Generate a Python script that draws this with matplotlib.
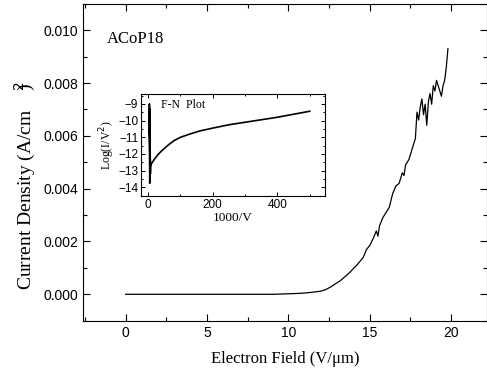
import matplotlib
matplotlib.use("Agg")
import matplotlib.pyplot as plt
from matplotlib.ticker import MultipleLocator

# Main J-E curve
field = [0.0, 9.0, 10.0, 10.5, 11.0, 11.5, 12.0, 12.3, 12.6, 12.9, 13.2, 13.5, 13.8,
         14.0, 14.2, 14.4, 14.6, 14.8, 15.0, 15.2, 15.4, 15.5, 15.6, 15.8, 16.0, 16.2,
         16.4, 16.6, 16.8, 17.0, 17.1, 17.2, 17.4, 17.6, 17.8, 17.9, 18.0, 18.1, 18.2,
         18.3, 18.4, 18.5, 18.6, 18.7, 18.8, 18.9, 19.0, 19.1, 19.2, 19.3, 19.4, 19.5,
         19.6, 19.7, 19.8]
current = [0.0, 0.0, 0.00002, 0.00003, 0.00005, 0.00008, 0.00012, 0.00018, 0.00028,
           0.0004, 0.00052, 0.00068, 0.00085, 0.00098, 0.0011, 0.00125, 0.0014, 0.0017,
           0.00185, 0.0021, 0.0024, 0.0022, 0.0026, 0.0029, 0.0031, 0.0033, 0.0038,
           0.0041, 0.0042, 0.0046, 0.0045, 0.0049, 0.0051, 0.0055, 0.0059, 0.0069,
           0.0066, 0.0071, 0.0074, 0.0068, 0.0072, 0.0064, 0.0073, 0.0076, 0.0072,
           0.0079, 0.0077, 0.0081, 0.0079, 0.0077, 0.0075, 0.0079, 0.0081, 0.0086, 0.0093]

# Inset F-N plot
fn_x = [8, 5, 4, 6, 5, 7, 5, 6, 4, 7, 10, 20, 30, 40, 60, 80, 100, 130, 160, 200,
        250, 300, 350, 400, 450, 500]
fn_y = [-12.6, -13.75, -9.0, -13.6, -9.3, -13.2, -9.6, -12.9, -10.0, -12.7, -12.6,
        -12.3, -12.05, -11.85, -11.5, -11.2, -11.0, -10.8, -10.62, -10.45, -10.25,
        -10.1, -9.95, -9.8, -9.62, -9.44]

serif = "Liberation Serif"
sans = "Liberation Sans"

fig = plt.figure(figsize=(4.87, 3.8), dpi=100)
ax = fig.add_axes([0.171, 0.156, 0.829, 0.834])
ax.plot(field, current, color="black", lw=0.9)
ax.set_xlim(-2.6, 22.2)
ax.set_ylim(-0.001, 0.011)
ax.xaxis.set_major_locator(MultipleLocator(5))
ax.xaxis.set_minor_locator(MultipleLocator(2.5))
ax.yaxis.set_minor_locator(MultipleLocator(0.001))
ax.set_yticks([0, 0.002, 0.004, 0.006, 0.008, 0.010])
ax.set_yticklabels(["0.000", "0.002", "0.004", "0.006", "0.008", "0.010"])
ax.tick_params(which="both", direction="in", top=True, right=True, labelsize=10)
ax.tick_params(which="major", length=5, width=0.8)
ax.tick_params(which="minor", length=3, width=0.8)
for lbl in ax.get_xticklabels() + ax.get_yticklabels():
    lbl.set_fontfamily(sans)
ax.set_xlabel("Electron Field (V/\u03bcm)", fontfamily=serif, fontsize=12, labelpad=8)
fig.text(0.052, 1 - 290 / 380, "Current Density (A/cm    $^{2}\\!\\!\\!$)", rotation=90,
         ha="center", va="bottom", fontfamily=serif, fontsize=14)
ax.text(0.059, 0.89, "ACoP18", transform=ax.transAxes, fontfamily=serif, fontsize=12,
        va="center")

ins = fig.add_axes([0.2895, 0.484, 0.3785, 0.269])
ins.plot(fn_x, fn_y, color="black", lw=1.2)
ins.set_xlim(-22, 548)
ins.set_ylim(-14.52, -8.4)
ins.xaxis.set_major_locator(MultipleLocator(200))
ins.xaxis.set_minor_locator(MultipleLocator(100))
ins.yaxis.set_major_locator(MultipleLocator(1))
ins.yaxis.set_minor_locator(MultipleLocator(0.5))
ins.tick_params(which="both", direction="in", top=True, right=True, labelsize=8.5, pad=2)
ins.tick_params(which="major", length=3, width=0.7)
ins.tick_params(which="minor", length=1.5, width=0.7)
for lbl in ins.get_xticklabels() + ins.get_yticklabels():
    lbl.set_fontfamily(sans)
ins.set_xlabel("1000/V", fontfamily=serif, fontsize=9.5, labelpad=0.5)
ins.set_ylabel("Log(I/V$^2$)", fontfamily=serif, fontsize=8.5, labelpad=1)
ins.text(0.11, 0.86, "F-N  Plot", transform=ins.transAxes, fontfamily=serif, fontsize=8.5)

fig.savefig("out.png", dpi=100)
